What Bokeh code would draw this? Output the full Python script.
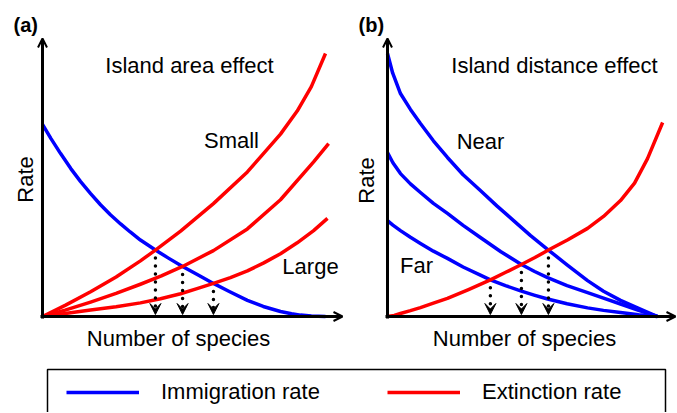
from bokeh.plotting import figure
from bokeh.models import (Range1d, Label, Arrow, OpenHead, VeeHead, Legend,
                          LegendItem, ColumnDataSource, BoxAnnotation)
from bokeh.embed import file_html
from bokeh.resources import INLINE

# ---------------- data (species 0-100, rate 0-100) ----------------
# (a) Island area effect
a_imm_x = [0, 3, 6.4, 10, 13.4, 17, 20.5, 24, 27.6, 31, 34.6, 39.9, 44.5, 49.5, 55, 60.4, 66, 72.4, 78, 84.1, 88, 91.2, 95, 100]
a_imm_y = [69.1, 64.0, 58.6, 53.2, 48.6, 44.2, 40.2, 36.6, 33.3, 30.4, 27.5, 23.9, 21.0, 18.0, 14.9, 11.9, 9.0, 5.8, 3.6, 1.8, 1.0, 0.5, 0.15, 0]
a_small_x = [0, 8, 17, 26, 34.6, 39.9, 48.8, 60.4, 72.4, 84.1, 90, 95, 100]
a_small_y = [0, 4.0, 8.9, 14.2, 20.0, 23.9, 30.7, 40.6, 52.0, 65.6, 73.9, 82.7, 94.6]
a_mid_x = [0, 8, 17, 26, 34.6, 42, 49.5, 60.4, 72.4, 84.1, 95.8, 101.1]
a_mid_y = [0, 2.3, 5.2, 8.3, 11.6, 14.6, 18.0, 23.7, 31.5, 42.0, 55.6, 62.2]
a_large_x = [0, 8, 17, 26, 34.6, 41.7, 48.8, 54.6, 60.4, 66.4, 72.4, 78.2, 84.1, 90, 95.8, 100.7]
a_large_y = [0, 1.1, 2.3, 3.5, 4.9, 6.4, 8.2, 10.0, 11.9, 14.0, 16.4, 19.3, 22.6, 26.5, 30.9, 35.3]
a_cross_x = [39.9, 49.5, 60.4]
a_cross_y = [23.9, 18.0, 11.9]

# (b) Island distance effect
b_near_x = [0, 1.9, 4.8, 8.5, 12.2, 17, 22.2, 28, 34.4, 40.5, 46.7, 53, 59.6, 66.5, 74.1, 80, 86.3, 93, 100]
b_near_y = [94.6, 87.6, 80.2, 74.5, 69.4, 63.2, 57.2, 51.0, 45.3, 39.8, 34.5, 29.1, 23.9, 18.6, 12.9, 9.1, 5.8, 2.9, 0]
b_mid_x = [0, 2, 4.8, 8.5, 12.2, 17, 22.2, 28, 34.4, 42, 49.6, 54.5, 59.3, 66.5, 74.1, 80, 86.3, 93, 100]
b_mid_y = [59.0, 55.3, 51.4, 47.7, 44.6, 40.7, 37.1, 32.8, 28.4, 23.3, 18.7, 16.2, 14.0, 11.1, 8.6, 6.6, 4.5, 2.2, 0]
b_far_x = [0, 2, 4.8, 8.5, 12.2, 17, 22.2, 28, 34.4, 38.1, 43.7, 49.3, 54.3, 59.3, 66.5, 74.1, 80, 86.3, 93, 100]
b_far_y = [34.5, 32.9, 30.9, 28.5, 26.3, 23.5, 20.9, 17.8, 14.9, 13.2, 11.1, 9.2, 7.7, 6.3, 4.6, 3.1, 2.2, 1.4, 0.6, 0]
b_ext_x = [0, 2.5, 4.8, 8.5, 12.2, 17, 22.2, 30, 38.1, 43.8, 49.6, 54.6, 59.6, 66.8, 74.1, 80, 86.3, 91.5, 96.3, 101.9]
b_ext_y = [0, 0.4, 1.1, 2.1, 3.2, 4.8, 6.5, 9.7, 13.2, 15.9, 18.7, 21.2, 23.9, 27.6, 31.7, 36.0, 41.7, 48.0, 56.8, 69.8]
b_cross_x = [38.1, 49.6, 59.6]
b_cross_y = [13.2, 18.7, 23.9]

titles = ["Island area effect", "Island distance effect"]
panel_tags = ["(a)", "(b)"]
legend_labels = ["Immigration rate", "Extinction rate"]

# ---------------- layout (pixels) ----------------
W, H = 676, 412
OFF = 0
TXT_DY = 7  # correction of the rendered baseline


def sx(ix):
    return ix - OFF


def sy(iy):
    return H - (iy - OFF)


# axis origins / extents in image pixels
A_X0, A_X100 = 42, 325
B_X0, B_X100 = 387, 657
Y0, Y100 = 316, 38


def xrange_for(x0, x100):
    per = (x100 - x0) / 100.0
    return Range1d(start=-sx(x0) / per, end=(W - sx(x0)) / per)


yper = (Y0 - Y100) / 100.0
p = figure(width=W, height=H, output_backend="svg", toolbar_location=None,
           x_axis_type=None, y_axis_type=None,
           x_range=xrange_for(A_X0, A_X100),
           y_range=Range1d(start=-sy(Y0) / yper, end=(H - sy(Y0)) / yper),
           min_border=0, min_border_left=0, min_border_right=0,
           min_border_top=0, min_border_bottom=0)
p.extra_x_ranges = {"b": xrange_for(B_X0, B_X100)}
p.grid.visible = False
p.outline_line_color = None
p.background_fill_color = "white"
p.border_fill_color = "white"

BLUE = "#0000ff"
RED = "#ff0000"
LW = 3.5


def dx(ix, x0, x100):
    return (ix - x0) / ((x100 - x0) / 100.0)


def dy(iy):
    return (Y0 - iy) / yper


# axes with arrows
for name, x0, x100, xend in [("default", A_X0, A_X100, 342), ("b", B_X0, B_X100, 675)]:
    p.add_layout(Arrow(end=OpenHead(size=9, line_width=2, line_color="black"),
                       x_start=dx(x0 - 2, x0, x100), y_start=0,
                       x_end=dx(xend, x0, x100), y_end=0,
                       line_width=3, line_color="black", x_range_name=name))
    p.add_layout(Arrow(end=OpenHead(size=9, line_width=2, line_color="black"),
                       x_start=0, y_start=dy(Y0 + 2),
                       x_end=0, y_end=dy(Y100),
                       line_width=3, line_color="black", x_range_name=name))

# curves panel a
r_imm = p.line(a_imm_x, a_imm_y, line_color=BLUE, line_width=LW, line_join="round")
r_ext = p.line(a_small_x, a_small_y, line_color=RED, line_width=LW, line_join="round")
p.line(a_mid_x, a_mid_y, line_color=RED, line_width=LW, line_join="round")
p.line(a_large_x, a_large_y, line_color=RED, line_width=LW, line_join="round")

# curves panel b
for xs, ys in [(b_near_x, b_near_y), (b_mid_x, b_mid_y), (b_far_x, b_far_y)]:
    p.line(xs, ys, line_color=BLUE, line_width=LW, line_join="round", x_range_name="b")
p.line(b_ext_x, b_ext_y, line_color=RED, line_width=LW, line_join="round", x_range_name="b")

# dotted equilibrium arrows
for name, cx, cy in [("default", a_cross_x, a_cross_y), ("b", b_cross_x, b_cross_y)]:
    src = ColumnDataSource(dict(x=cx, y0=[v - 8 / yper for v in cy],
                                y1=[2 / yper] * len(cx)))
    p.add_layout(Arrow(end=VeeHead(size=11, fill_color="black", line_color="black",
                                   line_width=1),
                       x_start="x", y_start="y0", x_end="x", y_end="y1",
                       source=src, line_dash="0 8", line_cap="round",
                       line_width=3.5, line_color="black", x_range_name=name))

FONT = "Liberation Sans"
FS = "22px"


def label(text, ix, iy, align="center", angle=0.0, bold=False, size=FS):
    if angle == 0.0:
        iy = iy - TXT_DY
    p.add_layout(Label(x=sx(ix), y=sy(iy), x_units="screen", y_units="screen",
                       text=text, text_font=FONT, text_font_size=size,
                       text_align=align, text_baseline="alphabetic",
                       angle=angle, text_color="black",
                       text_font_style="bold" if bold else "normal"))


label(panel_tags[0], 13, 31, align="left", bold=True, size="20px")
label(panel_tags[1], 358, 31, align="left", bold=True, size="20px")
label(titles[0], 189, 72)
label(titles[1], 554, 72)
label("Small", 231, 147)
label("Large", 310, 273)
label("Near", 480, 148)
label("Far", 416, 272)
label("Number of species", 178, 345)
label("Number of species", 524, 345)
label("Rate", 25, 179, angle=1.5707963)
label("Rate", 366, 180, angle=1.5707963)

# legend box
p.add_layout(BoxAnnotation(left=sx(47), right=sx(665), top=sy(369), bottom=-30,
                           left_units="screen", right_units="screen",
                           top_units="screen", bottom_units="screen",
                           fill_alpha=0, line_color="black", line_alpha=1.0,
                           line_width=1.5, level="overlay"))

legend = Legend(items=[LegendItem(label=legend_labels[0], renderers=[r_imm]),
                       LegendItem(label=legend_labels[1], renderers=[r_ext])],
                orientation="horizontal", location=(sx(66), sy(392 + 13)),
                padding=0, margin=0, spacing=64, glyph_width=73, glyph_height=26,
                label_standoff=22, label_width=162, label_height=26,
                label_text_font=FONT, label_text_font_size=FS,
                label_text_color="black",
                border_line_color=None, background_fill_alpha=0)
p.add_layout(legend)

open("out.html", "w").write(file_html(p, INLINE))
